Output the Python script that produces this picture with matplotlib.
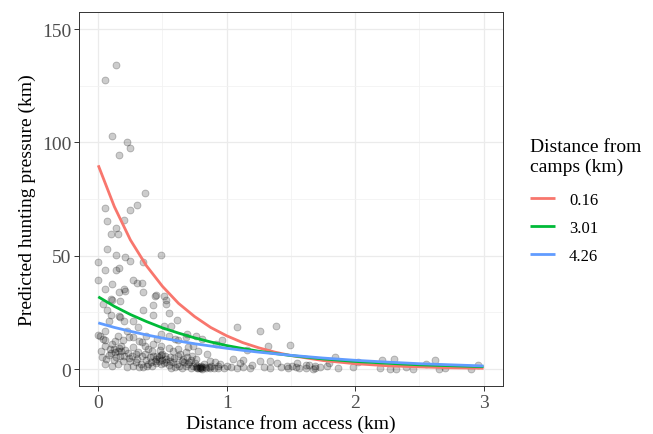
import matplotlib
matplotlib.use("Agg")
import matplotlib.pyplot as plt
from matplotlib.ticker import MultipleLocator

plt.rcParams['font.family'] = ['Liberation Serif', 'DejaVu Serif']

# observed points (distance from access km, predicted hunting pressure km)
pts_high = [(0.14, 134.3), (0.05, 127.7), (0.11, 102.8), (0.22, 100.3), (0.25, 97.5), (0.16, 94.4),
            (0.36, 77.9), (0.05, 71.0), (0.30, 72.3), (0.25, 70.2), (0.07, 65.2), (0.20, 65.8),
            (0.14, 62.3), (0.10, 59.8), (0.15, 59.8), (0.07, 53.2), (0.49, 50.4), (0.14, 50.3),
            (0.21, 49.5), (0.25, 47.5), (0.00, 47.1), (0.35, 47.1), (0.16, 44.7), (0.14, 43.7),
            (0.05, 43.8), (0.00, 39.3), (0.27, 39.1), (0.30, 38.1), (0.34, 37.8), (0.11, 37.5),
            (0.20, 35.3), (0.05, 35.3), (0.21, 34.5), (0.16, 34.0), (0.35, 34.0), (0.45, 32.7),
            (0.44, 32.3), (0.51, 32.1), (0.10, 30.9), (0.11, 30.5), (0.04, 28.7), (0.17, 30.2),
            (0.43, 28.2), (0.53, 28.7), (0.53, 30.5), (0.07, 26.1), (0.35, 26.2), (0.10, 23.9),
            (0.16, 23.4), (0.17, 22.8), (0.43, 23.9), (0.55, 24.8), (0.20, 21.4), (0.27, 21.2),
            (0.61, 21.6), (0.08, 21.1), (0.31, 18.5), (0.51, 19.2), (0.57, 19.2), (1.08, 18.5),
            (1.26, 16.7), (1.38, 18.9), (0.49, 15.5), (0.69, 15.5), (0.00, 15.1), (0.01, 14.5),
            (0.05, 17.0), (0.27, 14.1), (0.96, 13.0), (0.05, 13.0), (0.34, 12.1), (0.13, 12.6),
            (0.19, 13.0), (0.43, 11.3), (0.62, 13.0), (1.32, 10.4), (1.49, 10.5), (0.49, 10.4),
            (0.74, 10.4), (0.92, 11.1), (1.16, 8.6)]

pts_mid = [(0.04, 13.3), (0.15, 14.8), (0.22, 17.0), (0.24, 14.1), (0.32, 12.6), (0.37, 14.8),
           (0.46, 13.3), (0.55, 14.8), (0.60, 13.3), (0.68, 14.1), (0.76, 14.8), (0.81, 13.3),
           (0.05, 10.4), (0.11, 11.1), (0.16, 9.4), (0.13, 7.5), (0.27, 9.7), (0.29, 6.7),
           (0.36, 10.4), (0.42, 8.2), (0.46, 6.0), (0.50, 6.7), (0.58, 8.2), (0.62, 6.0),
           (0.68, 7.5), (0.73, 6.0), (0.78, 8.2), (0.06, 4.5), (0.14, 5.3), (0.19, 3.8),
           (0.29, 3.1), (0.37, 4.1), (0.45, 4.5), (0.53, 3.1), (0.56, 5.3), (0.65, 3.8),
           (0.71, 3.1), (0.76, 4.5), (0.05, 2.3), (0.11, 1.6), (0.15, 2.3), (0.27, 1.6),
           (0.33, 2.3), (0.42, 1.6), (0.49, 2.3), (0.60, 0.9), (0.68, 1.6), (0.76, 0.9),
           (0.80, 1.6)]

pts_low = [(0.09, 8.8), (0.12, 9.0), (0.18, 7.9), (0.21, 8.6), (0.24, 5.0), (0.08, 6.2),
           (0.17, 5.8), (0.40, 5.5), (0.44, 3.6), (0.47, 5.2), (0.50, 4.0), (0.52, 5.8),
           (0.55, 2.0), (0.58, 3.0), (0.63, 1.2), (0.66, 4.6), (0.70, 2.4), (0.74, 1.2),
           (0.78, 0.5), (0.79, 0.8), (0.80, 0.3), (0.82, 2.3), (0.84, 0.5), (0.86, 0.9),
           (0.88, 1.5), (0.91, 3.1), (0.93, 0.6), (0.35, 0.8), (0.38, 1.2), (0.22, 1.0),
           (0.25, 3.5), (0.02, 8.0), (0.03, 5.5), (0.31, 7.5), (0.34, 5.8), (0.39, 8.9),
           (0.48, 8.6), (0.55, 9.5), (0.62, 9.0), (0.70, 9.8), (0.85, 6.7), (0.87, 3.8),
           (1.05, 4.5), (1.13, 4.1), (1.26, 3.8), (1.34, 3.4), (1.39, 2.8), (1.47, 1.6),
           (1.55, 2.8), (1.62, 2.0), (1.69, 1.6), (0.81, 0.8), (0.87, 0.5), (0.93, 1.2),
           (0.98, 0.7), (1.03, 0.9), (1.08, 0.6), (1.13, 1.0), (1.18, 0.5), (1.29, 0.8),
           (1.34, 0.6), (1.42, 0.9), (1.48, 0.4), (1.54, 1.1), (1.62, 0.5), (1.69, 0.7),
           (1.00, 1.5), (1.10, 2.5), (1.20, 1.8)]

pts_dense = [(0.41, 3.0), (0.43, 5.8), (0.45, 2.6), (0.47, 3.8), (0.49, 6.2), (0.51, 2.8),
             (0.53, 4.6), (0.56, 3.4), (0.59, 5.0), (0.61, 2.2), (0.64, 6.6), (0.67, 3.0),
             (0.69, 5.4), (0.72, 4.0), (0.75, 2.6), (0.77, 1.4), (0.79, 0.4), (0.81, 0.2),
             (0.83, 1.0), (0.77, 0.3), (0.10, 7.0), (0.12, 4.0), (0.15, 8.2), (0.18, 10.0),
             (0.20, 5.6), (0.23, 7.0), (0.26, 6.0), (0.30, 4.6), (0.32, 1.0), (0.36, 6.6),
             (0.39, 2.4), (0.57, 0.6), (0.65, 0.4), (0.72, 0.6), (0.95, 2.2), (0.90, 0.3)]

pts_tail = [(1.51, 1.6), (1.56, 0.4), (1.64, 1.9), (1.67, 0.1), (1.73, 0.9), (1.78, 1.3),
            (1.80, 2.8), (1.84, 5.3), (1.87, 0.7), (1.98, 0.9), (2.02, 3.3), (2.19, 0.4),
            (2.21, 4.1), (2.27, 0.1), (2.30, 4.5), (2.32, 0.1), (2.40, 0.9), (2.45, 0.1),
            (2.55, 2.2), (2.62, 4.1), (2.65, 0.0), (2.70, 0.4), (2.90, 0.1), (2.96, 1.9)]

# fitted curves
curve_x = [0, 0.125, 0.25, 0.375, 0.5, 0.625, 0.75, 0.875, 1.0, 1.125, 1.25, 1.375, 1.5,
           1.75, 2.0, 2.25, 2.5, 2.75, 3.0]
curve_016 = [89.9, 71.7, 57.0, 45.6, 36.5, 29.0, 23.2, 18.4, 14.7, 11.7, 9.4, 7.5, 6.0,
             3.8, 2.4, 1.5, 1.0, 0.6, 0.4]
curve_301 = [31.9, 27.7, 24.1, 21.0, 18.2, 15.9, 13.8, 12.0, 10.4, 9.1, 7.9, 6.9, 6.0,
             4.5, 3.4, 2.6, 1.9, 1.5, 1.1]
curve_426 = [20.4, 18.4, 16.7, 15.1, 13.7, 12.4, 11.2, 10.2, 9.2, 8.3, 7.5, 6.8, 6.1,
             4.9, 3.9, 3.1, 2.4, 1.9, 1.4]
camp_labels = ['0.16', '3.01', '4.26']
camp_colors = ['#F8766D', '#00BA38', '#619CFF']

pts = pts_high + pts_mid + pts_low + pts_dense + pts_tail
px = [p[0] for p in pts]
py = [p[1] for p in pts]

fig = plt.figure(figsize=(6.53, 4.35), dpi=100)
ax = fig.add_axes([0.121, 0.110, 0.649, 0.860])

ax.scatter(px, py, s=25, facecolor=(0, 0, 0, 0.2), edgecolor=(0, 0, 0, 0.25),
           linewidth=0.6, zorder=2)

for ys, lab, col in zip([curve_016, curve_301, curve_426], camp_labels, camp_colors):
    ax.plot(curve_x, ys, color=col, lw=2.0, label=lab, zorder=3,
            solid_capstyle='butt', solid_joinstyle='round')

ax.set_xlim(-0.15, 3.15)
ax.set_ylim(-7.5, 157.5)
ax.xaxis.set_major_locator(MultipleLocator(1))
ax.xaxis.set_minor_locator(MultipleLocator(0.5))
ax.yaxis.set_major_locator(MultipleLocator(50))
ax.yaxis.set_minor_locator(MultipleLocator(25))
ax.grid(which='major', color='#EBEBEB', lw=0.9, zorder=0)
ax.grid(which='minor', color='#F2F2F2', lw=0.6, zorder=0)
ax.set_axisbelow(True)
ax.tick_params(which='major', length=3.5, width=0.7, color='#333333',
               labelsize=14, labelcolor='#4D4D4D', pad=2)
ax.tick_params(which='minor', length=0)
for s in ax.spines.values():
    s.set_color('#333333')
    s.set_linewidth(0.7)

ax.set_xlabel('Distance from access (km)', fontsize=14, labelpad=2)
ax.set_ylabel('Predicted hunting pressure (km)', fontsize=14, labelpad=4)

leg = fig.legend(loc='upper left', bbox_to_anchor=(0.801, 0.695),
                 title='Distance from\ncamps (km)', fontsize=12, title_fontsize=14,
                 frameon=False, handlelength=1.5, handletextpad=0.85, labelspacing=0.72,
                 borderaxespad=0.0)
leg._legend_box.align = 'left'
leg._legend_box.sep = 12

fig.savefig('out.png', dpi=100)
